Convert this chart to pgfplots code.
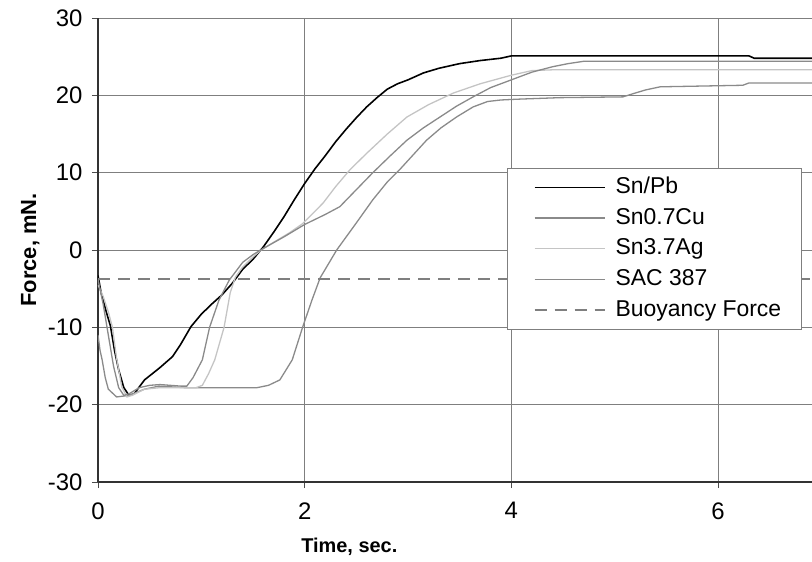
\documentclass[border=0pt]{standalone}
\usepackage{fontspec}
\setmainfont{Liberation Sans}
\usepackage{pgfplots}
\pgfplotsset{compat=1.18}
\definecolor{gridc}{HTML}{7F7F7F}
\definecolor{midg}{HTML}{8A8A8A}
\definecolor{lightg}{HTML}{C4C4C4}
\newcommand{\tickfont}{\fontsize{24}{28}\selectfont}
\begin{document}
\begin{tikzpicture}
\useasboundingbox (-98bp,-80bp) rectangle (714bp,482bp);
\begin{axis}[
  at={(0,0)}, anchor=south west,
  scale only axis, width=714bp, height=464bp,
  xmin=0, xmax=6.91, ymin=-30, ymax=30,
  xtick={0,2,4,6}, ytick={-30,-20,-10,0,10,20,30},
  xticklabels={0,2,4,6}, yticklabels={-30,-20,-10,0,10,20,30},
  axis x line*=bottom, axis y line*=left,
  axis line style={line width=1.4pt, color=black!80, -},
  grid=major, major grid style={gridc, line width=0.9pt},
  tick align=outside, major tick length=6bp,
  tick style={black!70, line width=0.9pt},
  xticklabel style={font=\tickfont, yshift=-11bp},
  yticklabel style={font=\tickfont, xshift=-6bp},
  xlabel={Time, sec.}, ylabel={Force, mN.},
  every axis x label/.style={at={(axis description cs:0.352,-0.14)}, anchor=center, font=\fontsize{20}{24}\selectfont\bfseries},
  every axis y label/.style={at={(axis description cs:-0.095,0.5)}, anchor=center, rotate=90, font=\fontsize{22}{26}\selectfont\bfseries},
  clip=true,
  legend style={at={(axis cs:3.96,10.62)}, anchor=north west, draw=gridc, line width=0.9pt,
    font=\fontsize{23}{26}\selectfont, inner xsep=11bp, inner ysep=8bp, row sep=8.7bp,
    nodes={inner xsep=0pt, inner ysep=0pt, text height=17bp, text depth=5bp},
    cells={anchor=west}},
  legend image code/.code={\draw[#1] (0bp,0bp) -- (70bp,0bp); \path (-15bp,0bp) (80bp,0bp);},
]
\addplot[black, line width=1.6pt] coordinates {
(0,-3.3) (0.03,-5.5) (0.08,-8) (0.12,-9.8) (0.16,-13) (0.2,-15.5) (0.25,-17.8) (0.3,-18.8) (0.35,-18.6)
(0.45,-16.8) (0.6,-15.2) (0.72,-13.8) (0.8,-12.2) (0.9,-9.9) (1.0,-8.3) (1.1,-7) (1.2,-5.8) (1.3,-4.3)
(1.4,-2.5) (1.5,-1.2) (1.6,0.4) (1.7,2.3) (1.8,4.3) (1.9,6.5) (2.0,8.6) (2.1,10.5) (2.2,12.2) (2.3,14)
(2.4,15.6) (2.5,17.1) (2.6,18.5) (2.7,19.7) (2.8,20.8) (2.9,21.5) (3.0,22) (3.15,22.9) (3.3,23.5)
(3.5,24.1) (3.7,24.5) (3.9,24.8) (4.0,25.1) (6.3,25.1) (6.35,24.8) (6.91,24.8)};
\addlegendentry{Sn/Pb}
\addplot[midg, line width=1.3pt] coordinates {
(0,-11) (0.02,-13) (0.04,-14.2) (0.07,-16.5) (0.1,-18) (0.18,-19) (0.3,-18.8) (0.45,-18) (0.59,-17.6)
(0.84,-17.8) (1.2,-17.8) (1.54,-17.8) (1.65,-17.5) (1.76,-16.8) (1.88,-14.2) (1.98,-10) (2.07,-6.5)
(2.15,-3.6) (2.31,0) (2.5,3.5) (2.66,6.5) (2.8,8.8) (2.92,10.4) (3.05,12.3) (3.18,14.2) (3.32,15.8)
(3.47,17.2) (3.63,18.5) (3.77,19.2) (3.9,19.4) (4.06,19.5) (4.47,19.7) (5.08,19.8) (5.2,20.3) (5.3,20.7)
(5.44,21.1) (6.24,21.3) (6.3,21.6) (6.91,21.6)};
\addlegendentry{Sn0.7Cu}
\addplot[lightg, line width=1.3pt] coordinates {
(0,-4.5) (0.05,-6) (0.1,-8) (0.14,-10) (0.18,-14) (0.23,-17.7) (0.28,-19) (0.33,-18.8) (0.45,-18)
(0.6,-17.8) (0.8,-17.8) (0.95,-17.8) (1.01,-17.5) (1.07,-16) (1.13,-14.2) (1.22,-10) (1.28,-5.5)
(1.33,-3.5) (1.4,-2.2) (1.5,-0.9) (1.58,0) (1.7,1) (1.85,2.2) (1.98,3.4) (2.1,5) (2.18,6.1) (2.3,8.2)
(2.44,10.4) (2.6,12.5) (2.8,15) (2.99,17.2) (3.2,18.8) (3.44,20.3) (3.7,21.5) (4.0,22.6) (4.2,23.2)
(4.4,23.3) (6.91,23.3)};
\addlegendentry{Sn3.7Ag}
\addplot[midg, line width=1.3pt] coordinates {
(0,-3.8) (0.05,-7) (0.1,-11) (0.15,-15) (0.2,-17.8) (0.25,-18.8) (0.3,-18.6) (0.4,-17.8) (0.5,-17.5)
(0.6,-17.4) (0.7,-17.5) (0.8,-17.6) (0.86,-17.6) (0.92,-16.5) (1.01,-14.2) (1.08,-10) (1.17,-6.5)
(1.27,-3.9) (1.4,-1.6) (1.5,-0.6) (1.6,0.2) (1.8,1.7) (2.0,3.3) (2.2,4.6) (2.34,5.6) (2.5,7.8)
(2.66,10) (2.83,12.2) (2.99,14.2) (3.15,15.8) (3.31,17.2) (3.47,18.6) (3.63,19.8) (3.8,21) (4.0,22)
(4.2,23) (4.4,23.7) (4.55,24.1) (4.7,24.4) (6.91,24.4)};
\addlegendentry{SAC 387}
\addplot[gridc, line width=2pt, dash pattern=on 12bp off 8bp] coordinates {(0,-3.7) (6.91,-3.7)};
\addlegendentry{Buoyancy Force\hspace*{9bp}}
\end{axis}
\end{tikzpicture}
\end{document}
